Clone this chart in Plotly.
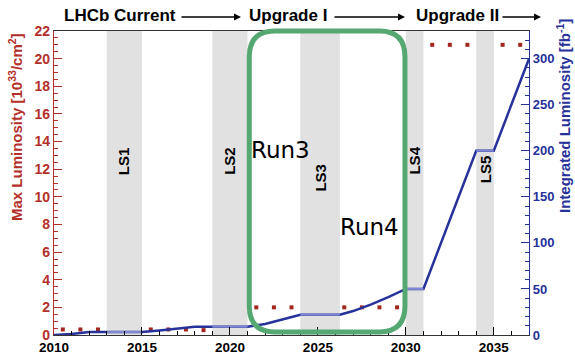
import numpy as np
import plotly.graph_objects as go

# Long shutdown periods (start, end) and their labels
ls_names = ["LS1", "LS2", "LS3", "LS4", "LS5"]
ls_start = [2013.0, 2019.0, 2024.0, 2030.0, 2034.0]
ls_end = [2015.0, 2021.0, 2026.25, 2031.0, 2035.0]
ls_label_y = [12.6, 12.6, 11.4, 12.6, 12.0]

# Peak instantaneous luminosity per year [10^33 cm^-2 s^-1]
peak_years = [2010.5, 2011.5, 2012.5, 2015.5, 2016.5, 2017.5, 2018.5,
              2021.5, 2022.5, 2023.5, 2026.5, 2027.5, 2028.5, 2029.5,
              2031.5, 2032.5, 2033.5, 2035.5, 2036.5]
peak_lumi = [0.4, 0.4, 0.4, 0.4, 0.4, 0.4, 0.35,
             2, 2, 2, 2, 2, 2, 2,
             21, 21, 21, 21, 21]

# Integrated luminosity [fb^-1]
int_years = [2010, 2011, 2012, 2013, 2015, 2016, 2017, 2018, 2019, 2021,
             2022, 2023, 2024, 2026.25, 2027, 2028, 2029, 2030, 2031,
             2034, 2035, 2037]
int_lumi = [0, 1.1, 3.2, 3.2, 3.2, 5, 7, 9, 9, 9,
            12, 17, 22, 22, 26, 33, 41, 50, 50,
            200, 200, 300]

x_ticks = [2010, 2015, 2020, 2025, 2030, 2035]
left_ticks = list(range(0, 23, 2))
right_ticks = list(range(0, 301, 50))

RED = "#b3302a"
BLUE = "#27319a"
LIGHT_BLUE = "#7f87d2"
GREEN = "#55a872"
FONT = "Liberation Sans"

fig = go.Figure()

# Max luminosity markers (left axis)
fig.add_trace(go.Scatter(
    x=peak_years, y=peak_lumi, mode="markers",
    marker=dict(symbol="square", size=4, color="#a3261f"),
    yaxis="y", showlegend=False, hoverinfo="skip"))

# Integrated luminosity curve (right axis)
fig.add_trace(go.Scatter(
    x=int_years, y=int_lumi, mode="lines",
    line=dict(color=BLUE, width=2.5),
    yaxis="y2", showlegend=False, hoverinfo="skip"))

# Flat segments during shutdowns in a lighter shade
for s, e in zip(ls_start, ls_end):
    v0 = float(np.interp(s, int_years, int_lumi))
    v1 = float(np.interp(e, int_years, int_lumi))
    fig.add_trace(go.Scatter(
        x=[s, e], y=[v0, v1], mode="lines",
        line=dict(color=LIGHT_BLUE, width=2),
        yaxis="y2", showlegend=False, hoverinfo="skip"))

shapes = []
annotations = []

# Shutdown bands
for s, e in zip(ls_start, ls_end):
    shapes.append(dict(type="rect", xref="x", yref="paper", x0=s, x1=e,
                       y0=0, y1=1, fillcolor="#e1e1e1", line=dict(width=0),
                       layer="below"))

for name, s, e, ly in zip(ls_names, ls_start, ls_end, ls_label_y):
    annotations.append(dict(x=(s + e) / 2, y=ly, xref="x", yref="y",
                            xanchor="center", yanchor="middle",
                            text=name, showarrow=False, textangle=-90,
                            font=dict(family=FONT, size=15, color="black",
                                      weight="bold")))

# Rounded frame around Run3 / Run4
bx0, bx1 = 2021.1, 2029.95
by0, by1 = 0.01, 1.0
rx = 1.45
ry = 0.085
path = (f"M {bx0 + rx},{by1} L {bx1 - rx},{by1} "
        f"Q {bx1},{by1} {bx1},{by1 - ry} L {bx1},{by0 + ry} "
        f"Q {bx1},{by0} {bx1 - rx},{by0} L {bx0 + rx},{by0} "
        f"Q {bx0},{by0} {bx0},{by0 + ry} L {bx0},{by1 - ry} "
        f"Q {bx0},{by1} {bx0 + rx},{by1} Z")
shapes.append(dict(type="path", xref="x", yref="paper", path=path,
                   line=dict(color=GREEN, width=5), layer="above"))

run_font = dict(family="DejaVu Sans", size=23, color="black")
annotations.append(dict(x=2022.85, y=13.4, xref="x", yref="y", text="Run3",
                        xanchor="center", yanchor="middle",
                        showarrow=False, font=run_font))
annotations.append(dict(x=2027.95, y=7.8, xref="x", yref="y", text="Run4",
                        xanchor="center", yanchor="middle",
                        showarrow=False, font=run_font))

# Header: upgrade timeline
L, W, B, H = 54, 475, 335, 304


def px(xp):
    return (xp - L) / W


def py(yp):
    return (B - yp) / H


hdr_font = dict(family=FONT, size=17, color="black", weight="bold")
for txt, cx in [("LHCb Current", 120), ("Upgrade I", 288), ("Upgrade II", 457)]:
    annotations.append(dict(x=px(cx), y=py(16), xref="paper", yref="paper",
                            xanchor="center", yanchor="middle",
                            text=txt, showarrow=False, font=hdr_font))
for x_from, x_to in [(180, 241), (333, 405), (501, 541)]:
    annotations.append(dict(x=px(x_to), y=py(17), xref="paper", yref="paper",
                            ax=-(x_to - x_from), ay=0, text="",
                            showarrow=True, arrowhead=2, arrowsize=1,
                            arrowwidth=1.4, arrowcolor="black", standoff=0))

# Axis titles
annotations.append(dict(x=px(15), y=py(127), xref="paper", yref="paper",
                        xanchor="center", yanchor="middle",
                        text="Max Luminosity [10<sup>33</sup>/cm<sup>2</sup>]",
                        showarrow=False, textangle=-90,
                        font=dict(family=FONT, size=15, color=RED,
                                  weight="bold")))
annotations.append(dict(x=px(564), y=py(116), xref="paper", yref="paper",
                        xanchor="center", yanchor="middle",
                        text="Integrated Luminosity [fb<sup>-1</sup>]",
                        showarrow=False, textangle=-90,
                        font=dict(family=FONT, size=15, color=BLUE,
                                  weight="bold")))

fig.update_layout(
    width=575, height=353,
    margin=dict(l=L, r=575 - L - W, t=B - H, b=353 - B, autoexpand=False),
    paper_bgcolor="white", plot_bgcolor="white",
    shapes=shapes, annotations=annotations,
    xaxis=dict(range=[2010, 2037], tickvals=x_ticks, showgrid=False,
               automargin=False,
               zeroline=False, ticks="inside", ticklen=8, tickcolor="black",
               showline=True, linecolor="#333333", linewidth=1, mirror=True,
               minor=dict(ticks="inside", dtick=1, ticklen=4,
                          tickcolor="black"),
               tickfont=dict(family=FONT, size=13.5, color="black",
                             weight="bold")),
    yaxis=dict(range=[0, 22], tickvals=left_ticks, showgrid=False,
               automargin=False,
               zeroline=False, ticks="inside", ticklen=8, tickcolor=RED,
               showline=True, linecolor=RED, linewidth=1.2,
               minor=dict(ticks="inside", dtick=0.5, ticklen=4,
                          tickcolor=RED),
               tickfont=dict(family=FONT, size=14, color=RED, weight="bold")),
    yaxis2=dict(range=[0, 330], tickvals=right_ticks, showgrid=False,
                automargin=False,
                zeroline=False, overlaying="y", side="right",
                ticks="inside", ticklen=8, tickcolor=BLUE,
                showline=True, linecolor=BLUE, linewidth=1.2,
                minor=dict(ticks="inside", dtick=10, ticklen=4,
                           tickcolor=BLUE),
                tickfont=dict(family=FONT, size=13, color=BLUE,
                              weight="bold")),
)

fig.write_html("out.html")
